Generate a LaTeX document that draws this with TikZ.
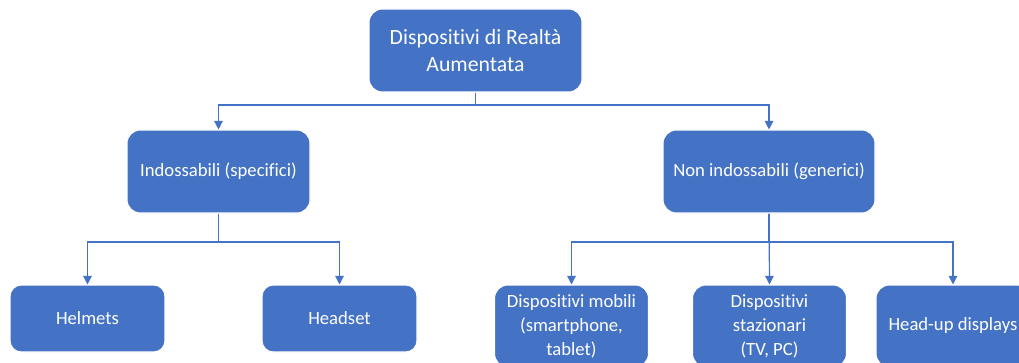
\documentclass[tikz,border=0pt]{standalone}
\usepackage{fontspec}
\setmainfont[Ligatures=NoCommon]{Carlito}
\usetikzlibrary{arrows.meta}
\definecolor{officeblue}{HTML}{4472C4}

\tikzset{
  box/.style={draw=white, line width=0.8pt, fill=officeblue, text=white,
    rounded corners=10pt, align=center, font=\fontsize{14}{18}\selectfont},
  conn/.style={draw=officeblue, line width=0.9pt,
    -{Triangle[length=6.5pt,width=6.5pt]}}
}

\begin{document}
\begin{tikzpicture}[x=0.75pt,y=-0.75pt]
  \useasboundingbox (0,0) rectangle (1019,363);

  % root
  \node[box, minimum width=159.75pt, minimum height=62.25pt,
    font=\fontsize{16.3}{20.3}\selectfont] (root) at (475.5,50.5)
    {Dispositivi di Realtà\\Aumentata};

  % second level
  \node[box, minimum width=137.25pt, minimum height=62.25pt] (wear) at (218.5,171.5)
    {Indossabili (specifici)};
  \node[box, minimum width=159pt, minimum height=62.25pt] (nowear) at (769,171.5)
    {Non indossabili (generici)};

  % leaves under the wearables
  \node[box, rounded corners=8.5pt, minimum width=116.25pt, minimum height=50.25pt]
    (helmet) at (87.5,318.5) {Helmets};
  \node[box, rounded corners=8.5pt, minimum width=116.25pt, minimum height=50.25pt]
    (headset) at (339.5,318.5) {Headset};

  % leaves under the non-wearables
  \node[box, minimum width=115.5pt, minimum height=61.5pt] (mobile) at (571.5,326)
    {Dispositivi mobili\\(smartphone,\\tablet)};
  \node[box, minimum width=115.5pt, minimum height=61.5pt] (fixed) at (769.5,326)
    {Dispositivi\\stazionari\\(TV, PC)};
  \node[box, minimum width=115.5pt, minimum height=61.5pt] (hud) at (953,326)
    {Head-up displays};

  % elbow joints
  \coordinate (j1) at (475.5,105);
  \coordinate (j2) at (218.5,242);
  \coordinate (j3) at (769,242);

  % connectors
  \draw[conn] (root.south) -- (j1) -| (wear.north);
  \draw[conn] (root.south) -- (j1) -| (nowear.north);
  \draw[conn] (wear.south) -- (j2) -| (helmet.north);
  \draw[conn] (wear.south) -- (j2) -| (headset.north);
  \draw[conn] (nowear.south) -- (j3) -| (mobile.north);
  \draw[conn] (nowear.south) -- (fixed.north);
  \draw[conn] (nowear.south) -- (j3) -| (hud.north);
\end{tikzpicture}
\end{document}
